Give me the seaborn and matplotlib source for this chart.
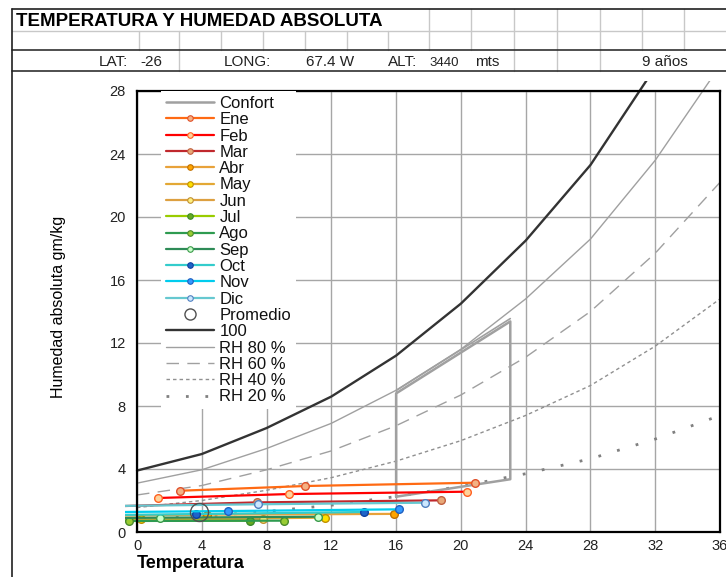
import matplotlib
matplotlib.use("Agg")
import numpy as np
import pandas as pd
import matplotlib.pyplot as plt
import seaborn as sns
from matplotlib.lines import Line2D
from matplotlib.patches import Rectangle

temp_curva = [0, 4, 8, 12, 16, 20, 24, 28, 32, 36]
hum_100 = [3.9, 4.95, 6.6, 8.6, 11.2, 14.5, 18.5, 23.3, 29.5, 37.0]
hum_80 = [3.1, 3.95, 5.3, 6.9, 9.0, 11.6, 14.8, 18.6, 23.6, 29.6]
hum_60 = [2.35, 2.95, 3.95, 5.15, 6.75, 8.7, 11.1, 14.0, 17.7, 22.2]
hum_40 = [1.55, 2.0, 2.65, 3.45, 4.5, 5.8, 7.4, 9.3, 11.8, 14.8]
hum_20 = [0.78, 1.0, 1.3, 1.7, 2.25, 2.9, 3.7, 4.65, 5.9, 7.4]

# ---- zona de confort ----
conf_t = [16, 16, 23.05, 23.05, 16]
conf_w = [2.24, 8.8, 13.37, 3.35, 2.24]

# ---- meses: temperatura minima, media, maxima y humedad en cada punto ----
meses = ["Ene", "Feb", "Mar", "Abr", "May", "Jun",
         "Jul", "Ago", "Sep", "Oct", "Nov", "Dic"]
temp_meses = [
    [2.66, 10.4, 20.9],
    [1.32, 9.4, 20.4],
    [-2.5, 7.4, 18.76],
    [-5.0, 4.35, 15.85],
    [-8.0, 0.23, 11.6],
    [-11.0, -1.5, 7.8],
    [-12.0, -2.2, 7.0],
    [-10.0, -0.5, 9.1],
    [-7.0, 1.42, 11.2],
    [-4.0, 3.64, 14.0],
    [-3.0, 5.6, 16.2],
    [-1.5, 7.45, 17.8],
]
hum_meses = [
    [2.62, 2.92, 3.13],
    [2.16, 2.41, 2.56],
    [1.6, 1.88, 2.01],
    [1.0, 1.1, 1.15],
    [0.7, 0.8, 0.91],
    [0.7, 0.78, 0.83],
    [0.65, 0.7, 0.72],
    [0.65, 0.7, 0.72],
    [0.85, 0.91, 0.97],
    [1.05, 1.14, 1.27],
    [1.25, 1.33, 1.44],
    [1.65, 1.76, 1.86],
]
prom_t = 3.8
prom_w = 1.29

# colores estilo planilla
col_linea = ["#FF6A13", "#FF0000", "#C0282D", "#E8A23A", "#E3A835", "#DDA040",
             "#99CC00", "#2E9B50", "#2E8B57", "#33CCCC", "#00CCEE", "#66C8D0"]
col_relleno = ["#F4B183", "#FFD39B", "#E8A878", "#FFA500", "#FFE000", "#FFF080",
               "#66AA22", "#99CC33", "#CCFFCC", "#1E64C8", "#3399FF", "#CCE8FF"]
col_borde = ["#E0502A", "#FF6020", "#C06040", "#C07000", "#C09000", "#C09030",
             "#3A8A2A", "#4A8A2A", "#3A9A4A", "#1040A0", "#2060C0", "#5080C0"]

sns.set_theme(style="white")
plt.rcParams["font.family"] = ["Liberation Sans", "DejaVu Sans"]

W, H = 726, 577
fig = plt.figure(figsize=(W / 100, H / 100), dpi=100)
ax = fig.add_axes([137 / W, (H - 532) / H, 583 / W, 441 / H])

# curvas de humedad relativa
sns.lineplot(x=temp_curva, y=hum_20, ax=ax, color="#808080", lw=2,
             linestyle=(0, (1, 6)), dash_capstyle="butt")
sns.lineplot(x=temp_curva, y=hum_40, ax=ax, color="#909090", lw=1,
             linestyle=(0, (2.5, 2.2)))
sns.lineplot(x=temp_curva, y=hum_60, ax=ax, color="#a0a0a0", lw=1,
             linestyle=(0, (9, 6)))
sns.lineplot(x=temp_curva, y=hum_80, ax=ax, color="#a0a0a0", lw=1)
sns.lineplot(x=temp_curva, y=hum_100, ax=ax, color="#333333", lw=1.7)

# confort (borde superior doble)
sns.lineplot(x=conf_t, y=conf_w, ax=ax, color="#a0a0a0", lw=1.8,
             sort=False, estimator=None)
ax.plot([conf_t[1], conf_t[2]], [conf_w[1] + 0.18, conf_w[2] + 0.18],
        color="#a0a0a0", lw=1.2)

for i, mes in enumerate(meses):
    sns.lineplot(x=temp_meses[i], y=hum_meses[i], ax=ax, color=col_linea[i],
                 lw=1.6, marker="o", markersize=5.5, sort=False, estimator=None,
                 markerfacecolor=col_relleno[i], markeredgecolor=col_borde[i],
                 markeredgewidth=1)

ax.plot([prom_t], [prom_w], marker="o", markersize=13, mfc="none",
        mec="#505050", mew=1, ls="none")

# como en la planilla, las lineas se salen un poco del area
clip = Rectangle((-12 / 583, 0), 1 + 12 / 583, 1 + 10 / 441,
                 transform=ax.transAxes, facecolor="none", edgecolor="none")
ax.add_patch(clip)
for ln in ax.lines:
    ln.set_clip_path(clip)

ax.set_xlim(0, 36)
ax.set_ylim(0, 28)
ax.set_xticks(range(0, 37, 4))
ax.set_yticks(range(0, 29, 4))
ax.grid(True, color="#a6a6a6", lw=1)
ax.tick_params(length=0, labelsize=10.5, colors="#222222")
ax.tick_params(axis="x", pad=5)
ax.tick_params(axis="y", pad=8)
for s in ax.spines.values():
    s.set_color("black")
    s.set_linewidth(1.6)
ax.set_xlabel("")
ax.set_ylabel("")

fig.text(137 / W, 1 - 564 / H, "Temperatura", fontsize=13, fontweight="bold",
         ha="left", va="center", color="black")
fig.text(58 / W, 1 - 307 / H, "Humedad absoluta gm/kg", fontsize=11.5,
         rotation=90, ha="center", va="center", color="black")

# leyenda
handles = [Line2D([], [], color="#a0a0a0", lw=1.8)]
for i in range(12):
    handles.append(Line2D([], [], color=col_linea[i], lw=1.6, marker="o",
                          markersize=4, markerfacecolor=col_relleno[i],
                          markeredgecolor=col_borde[i], markeredgewidth=0.8))
handles += [
    Line2D([], [], ls="none", marker="o", markersize=8, mfc="none",
           mec="#505050", mew=1),
    Line2D([], [], color="#333333", lw=1.7),
    Line2D([], [], color="#a0a0a0", lw=1),
    Line2D([], [], color="#a0a0a0", lw=1, ls=(0, (9, 6))),
    Line2D([], [], color="#909090", lw=1, ls=(0, (2.5, 2.2))),
    Line2D([], [], color="#808080", lw=2, ls=(0, (1, 6)), dash_capstyle="butt"),
]
labels = ["Confort"] + meses + ["Promedio", "100", "RH 80 %", "RH 60 %",
                                 "RH 40 %", "RH 20 %"]
leg = ax.legend(handles, labels, loc="upper left",
                bbox_to_anchor=(24 / 583, 1.0), frameon=True, fontsize=12,
                handlelength=2.9, handletextpad=0.3, labelspacing=0.078,
                borderpad=0.3, borderaxespad=0, fancybox=False,
                facecolor="white", edgecolor="none", framealpha=1)
leg.set_zorder(5)
for t in leg.get_texts():
    t.set_color("#111111")


# ---- cabecera tipo planilla ----
def hline(y, x0, x1, color, lw=1.0):
    fig.add_artist(Line2D([x0 / W, x1 / W], [1 - y / H, 1 - y / H],
                          transform=fig.transFigure, color=color, lw=lw))


def vline(x, y0, y1, color, lw=1.0):
    fig.add_artist(Line2D([x / W, x / W], [1 - y0 / H, 1 - y1 / H],
                          transform=fig.transFigure, color=color, lw=lw))


celdas = [139, 179, 221, 263, 305, 347, 388, 429, 471, 514, 557, 600, 642, 684]
gris = "#c8c8c8"
for x in celdas:
    vline(x, 31, 50, gris)
    if x >= 429:
        vline(x, 9, 31, gris)
for x in [179, 514, 557, 600]:
    vline(x, 50, 71, gris)
hline(9, 12, W, "#202020", 1.2)
hline(31, 12, W, gris)
hline(50, 12, W, "#303030", 1.2)
hline(71, 12, W, "#303030", 1.2)
vline(12, 9, H, "#202020", 1.2)

fig.text(16 / W, 1 - 26 / H, "TEMPERATURA Y HUMEDAD ABSOLUTA", fontsize=13.5,
         fontweight="bold", ha="left", va="baseline", color="black")
fila = 1 - 66 / H
fig.text(128 / W, fila, "LAT:", fontsize=11, ha="right", va="baseline", color="#222")
fig.text(140 / W, fila, "-26", fontsize=11, ha="left", va="baseline", color="#222")
fig.text(224 / W, fila, "LONG:", fontsize=11, ha="left", va="baseline", color="#222")
fig.text(306 / W, fila, "67.4 W", fontsize=11, ha="left", va="baseline", color="#222")
fig.text(388 / W, fila, "ALT:", fontsize=11, ha="left", va="baseline", color="#222")
fig.text(429 / W, fila, "3440", fontsize=9.5, ha="left", va="baseline", color="#222")
fig.text(475 / W, fila, "mts", fontsize=11, ha="left", va="baseline", color="#222")
fig.text(642 / W, fila, "9 años", fontsize=11, ha="left", va="baseline", color="#222")

fig.savefig("out.png", dpi=100)
